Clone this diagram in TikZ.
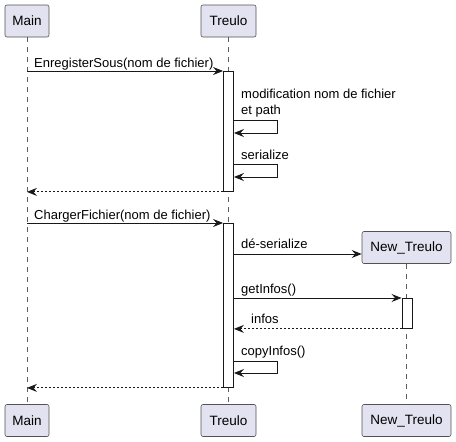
\documentclass[tikz,border=0pt]{standalone}
\usepackage{fontspec}
\setmainfont{Liberation Sans}
\usepackage{tikz}
\usetikzlibrary{arrows.meta}
\usetikzlibrary{calc}

\definecolor{partfill}{RGB}{226,226,240}
\definecolor{ink}{RGB}{24,24,24}

\begin{document}
\begin{tikzpicture}[
  x=1pt, y=-1pt,
  every node/.style={font=\fontsize{13}{16.5}\selectfont},
  part/.style={draw=ink!75, line width=0.6pt, fill=partfill, rounded corners=2pt,
    minimum height=32pt, inner sep=0pt, font=\fontsize{13.5}{16}\selectfont},
  life/.style={draw=ink!70, line width=0.6pt, dash pattern=on 5pt off 5pt},
  act/.style={draw=ink, line width=0.9pt, fill=white, minimum width=10pt, inner sep=0pt, anchor=north},
  msg/.style={draw=ink, line width=0.9pt, -{Stealth[length=10pt, width=8pt, inset=3.5pt]}},
  ret/.style={msg, dash pattern=on 2pt off 2pt},
  lbl/.style={anchor=base west, inner sep=0pt, align=left}
]
\useasboundingbox (0,0) rectangle (456,442);

% participants
\node[part, minimum width=44pt] (mainTop) at (27,21) {Main};
\node[part, minimum width=55pt] (treuloTop) at (228.5,21) {Treulo};
\node[part, minimum width=44pt] (mainBot) at (27,420.5) {Main};
\node[part, minimum width=55pt] (treuloBot) at (228.5,420.5) {Treulo};
\node[part, minimum width=89pt] (newTop) at (406.5,247.5) {New\_Treulo};
\node[part, minimum width=89pt] (newBot) at (406.5,420.5) {New\_Treulo};

% lifelines
\draw[life] (mainTop.south) -- (mainBot.north);
\draw[life] (treuloTop.south) -- (treuloBot.north);
\draw[life] (newTop.south) -- (newBot.north);

% activations
\node[act, minimum height=120pt] (act1) at (228.5,71) {};
\node[act, minimum height=164pt] (act2) at (228.5,223) {};
\node[act, minimum height=30pt] (act3) at (407,298) {};

% EnregisterSous
\draw[msg] (mainTop.south |- act1.north) -- (act1.north west);
\node[lbl] at (34,67) {EnregisterSous(nom de fichier)};
\node[lbl] at (241,114.5) {modification nom de fichier\\et path};
\draw[msg] (act1.east |- 0,120) -- ++(43,0) -- ++(0,13) -- ++(-43,0);
\node[lbl] at (241,159) {serialize};
\draw[msg] (act1.east |- 0,164) -- ++(43,0) -- ++(0,13) -- ++(-43,0);
\draw[ret] (act1.south west) -- (mainTop.south |- act1.south);

% ChargerFichier
\draw[msg] (mainTop.south |- act2.north) -- (act2.north west);
\node[lbl] at (34,219) {ChargerFichier(nom de fichier)};
\node[lbl] at (241,248) {dé-serialize};
\draw[msg] (act2.east |- 0,254) -- (newTop.west |- 0,254);
\node[lbl] at (241,293) {getInfos()};
\draw[msg] (act2.east |- act3.north) -- (act3.north west);
\node[lbl] at (251,323) {infos};
\draw[ret] (act3.south west) -- (act2.east |- act3.south);
\node[lbl] at (241,355) {copyInfos()};
\draw[msg] (act2.east |- 0,361) -- ++(43,0) -- ++(0,12) -- ++(-43,0);
\draw[ret] (act2.south west) -- (mainTop.south |- act2.south);
\end{tikzpicture}
\end{document}
